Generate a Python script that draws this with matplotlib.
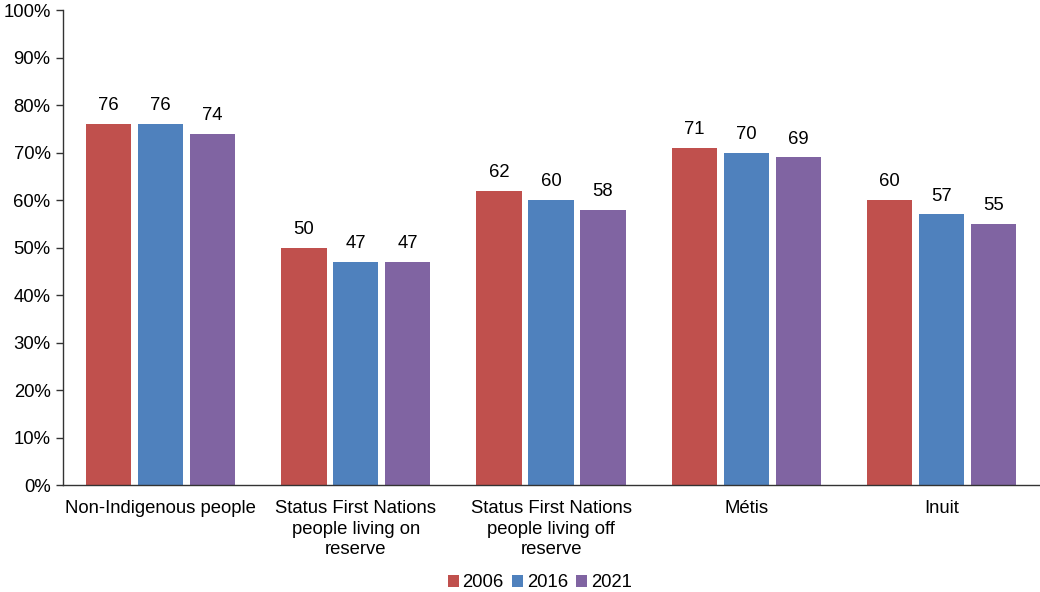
import numpy as np
from matplotlib import pyplot as plt
from matplotlib.ticker import FuncFormatter

plt.rcParams['font.family'] = ['Liberation Sans', 'DejaVu Sans']
plt.rcParams['font.size'] = 13.3

groups = ["Non-Indigenous people",
          "Status First Nations\npeople living on\nreserve",
          "Status First Nations\npeople living off\nreserve",
          "Métis",
          "Inuit"]
years = ["2006", "2016", "2021"]
vals_2006 = [76, 50, 62, 71, 60]
vals_2016 = [76, 47, 60, 70, 57]
vals_2021 = [74, 47, 58, 69, 55]
colors = ["#C0504D", "#4F81BD", "#8064A2"]

fig = plt.figure(figsize=(10.4, 5.92), dpi=100)
ax = fig.add_axes([0.0606, 0.1807, 0.9385, 0.8024])

x = np.arange(len(groups))
step = 0.266
for i, (yr, vals) in enumerate(zip(years, [vals_2006, vals_2016, vals_2021])):
    pos = x + (i - 1) * step
    bars = ax.bar(pos, vals, width=0.232, color=colors[i], label=yr)
    for b, v in zip(bars, vals):
        ax.annotate(str(v), (b.get_x() + b.get_width() / 2, v),
                    xytext=(0, 7), textcoords='offset points',
                    ha='center', va='bottom')

ax.set_xlim(-0.5, len(groups) - 0.5)
ax.set_ylim(0, 100)
ax.set_yticks(range(0, 101, 10))
ax.yaxis.set_major_formatter(FuncFormatter(lambda v, p: f"{v:.0f}%"))
ax.set_xticks(x)
ax.set_xticklabels(groups, linespacing=1.25)
ax.tick_params(axis='x', length=0, pad=11)
ax.tick_params(axis='y', length=5, width=1, pad=4, color='#333333')

for s in ['top', 'right']:
    ax.spines[s].set_visible(False)
for s in ['left', 'bottom']:
    ax.spines[s].set_color('#333333')
    ax.spines[s].set_linewidth(1)

fig.legend(loc='lower center', bbox_to_anchor=(0.519, -0.027), ncol=3,
           frameon=False, handlelength=0.6, handleheight=0.6,
           handletextpad=0.2, columnspacing=0.45)

fig.savefig('out.png', dpi=100)
